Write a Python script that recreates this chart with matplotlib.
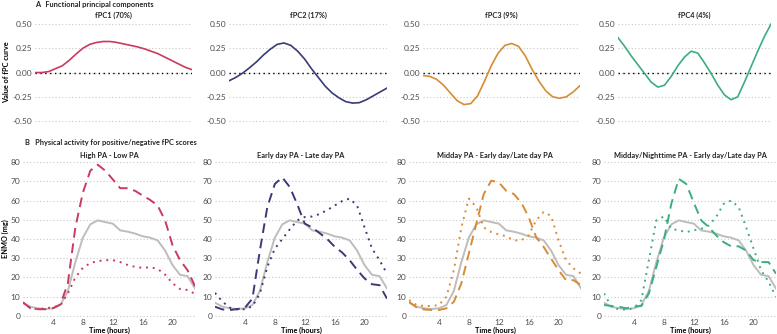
import matplotlib
matplotlib.use("Agg")
import matplotlib.pyplot as plt
import numpy as np

plt.rcParams['font.family'] = ['Lato', 'DejaVu Sans']

hours = list(range(24))

# fPC curves
fpc1 = [0.0, 0.0, 0.01, 0.04, 0.07, 0.125, 0.19, 0.25, 0.29, 0.31, 0.32, 0.32, 0.31, 0.295,
        0.28, 0.265, 0.245, 0.22, 0.195, 0.16, 0.125, 0.09, 0.055, 0.03]
fpc2 = [-0.085, -0.05, -0.005, 0.05, 0.11, 0.18, 0.24, 0.29, 0.305, 0.28, 0.22, 0.14, 0.04, -0.05,
        -0.14, -0.21, -0.26, -0.3, -0.315, -0.31, -0.28, -0.24, -0.2, -0.16]
fpc3 = [-0.03, -0.04, -0.07, -0.13, -0.21, -0.29, -0.33, -0.32, -0.24, -0.09, 0.07, 0.2, 0.28, 0.3,
        0.27, 0.17, 0.03, -0.09, -0.19, -0.25, -0.265, -0.25, -0.2, -0.135]
fpc4 = [0.36, 0.27, 0.17, 0.08, -0.01, -0.1, -0.15, -0.13, -0.04, 0.07, 0.16, 0.22, 0.2, 0.1,
        -0.01, -0.13, -0.23, -0.28, -0.25, -0.1, 0.06, 0.22, 0.37, 0.5]

top_titles = ["fPC1 (70%)", "fPC2 (17%)", "fPC3 (9%)", "fPC4 (4%)"]
bottom_titles = ["High PA - Low PA", "Early day PA - Late day PA",
                 "Midday PA - Early day/Late day PA",
                 "Midday/Nighttime PA - Early day/Late day PA"]
colors = ["#C93A5E", "#3A3A78", "#D88B34", "#3BAE7E"]

# Mean ENMO
mean_pa = [6.9, 4.8, 4.0, 3.6, 4.0, 5.7, 13.0, 28.0, 40.7, 47.6, 49.7, 48.8, 48.0, 44.5,
           43.8, 42.8, 41.4, 40.7, 39.3, 34.0, 26.4, 21.4, 20.7, 14.3]

# positive (dashed) / negative (dotted) fPC scores
pos1 = [7.0, 4.0, 3.5, 3.5, 4.0, 6.0, 17.0, 46.0, 64.0, 75.5, 78.6, 75.5, 71.0, 66.4,
        66.4, 65.0, 62.6, 60.3, 57.4, 49.7, 36.7, 29.0, 23.8, 15.5]
neg1 = [7.0, 4.0, 3.5, 4.0, 4.5, 5.5, 11.7, 20.0, 25.0, 27.5, 28.5, 29.0, 29.0, 28.0,
        26.5, 25.5, 25.0, 25.3, 24.5, 21.5, 17.0, 14.0, 13.5, 11.5]
pos2 = [4.8, 3.4, 3.1, 3.6, 4.3, 9.0, 34.0, 56.6, 68.6, 72.0, 67.0, 58.0, 48.0, 46.0,
        43.0, 40.0, 36.0, 33.0, 29.0, 24.0, 19.5, 16.5, 16.0, 9.0]
neg2 = [12.0, 7.4, 4.3, 3.4, 3.5, 5.0, 11.7, 25.5, 35.0, 40.0, 45.0, 49.7, 51.4, 51.7,
        53.0, 55.0, 57.4, 59.7, 61.0, 57.4, 46.0, 35.0, 29.0, 22.0]
pos3 = [7.4, 4.5, 3.4, 3.1, 3.1, 4.0, 7.4, 17.0, 32.4, 48.0, 63.4, 70.3, 69.5, 65.0,
        63.4, 59.0, 51.4, 41.0, 35.9, 29.8, 23.8, 18.6, 18.6, 16.0]
neg3 = [8.3, 5.7, 5.2, 5.2, 5.7, 10.0, 23.8, 46.0, 61.0, 56.6, 46.0, 43.6, 42.4, 41.4,
        39.3, 39.3, 41.9, 49.7, 54.0, 52.0, 39.3, 29.0, 24.7, 22.0]
pos4 = [5.7, 5.2, 4.8, 4.0, 4.8, 5.2, 11.7, 25.5, 39.3, 58.3, 71.2, 68.6, 59.0, 49.7,
        46.2, 41.9, 38.4, 36.2, 36.2, 34.0, 29.0, 28.0, 28.0, 22.0]
neg4 = [11.7, 4.8, 3.4, 3.4, 4.0, 8.3, 29.0, 49.7, 51.7, 45.3, 44.5, 43.6, 44.5, 45.3,
        47.0, 51.4, 58.3, 60.0, 56.6, 46.2, 35.0, 23.8, 17.8, 10.0]

fpcs = [fpc1, fpc2, fpc3, fpc4]
pos = [pos1, pos2, pos3, pos4]
neg = [neg1, neg2, neg3, neg4]

W, H = 777, 334
fig = plt.figure(figsize=(W / 100, H / 100), dpi=100)

tick_color = "#4D4D4D"
grid_color = "#C8C8C8"
title_fs = 5.3
tick_fs = 6

def style(ax):
    for s in ax.spines.values():
        s.set_visible(False)
    ax.tick_params(length=0, labelsize=tick_fs, colors=tick_color, pad=2)
    ax.tick_params(axis="x", pad=1)
    ax.yaxis.grid(True, linestyle=(0, (1, 2)), color=grid_color, linewidth=0.8)
    ax.xaxis.grid(False)
    ax.set_axisbelow(True)

top_lefts = [35, 229, 423, 618]
top_widths = [157, 158, 157, 153]
top_y0, top_y1 = 19.2, 125.9
for i in range(4):
    ax = fig.add_axes([top_lefts[i] / W, 1 - top_y1 / H, top_widths[i] / W, (top_y1 - top_y0) / H])
    style(ax)
    ax.set_xlim(0, 23)
    ax.set_ylim(-0.55, 0.55)
    ax.set_yticks([-0.5, -0.25, 0, 0.25, 0.5])
    ax.set_yticklabels(["-0.50", "-0.25", "0.00", "0.25", "0.50"])
    ax.set_xticks([])
    ax.axhline(0, color="black", linestyle=(0, (1, 2.5)), linewidth=1.0, zorder=1)
    ax.plot(hours, fpcs[i], color=colors[i], linewidth=1.2, zorder=3)
    ax.set_title(top_titles[i], fontsize=title_fs, fontweight="bold", color="#222222", pad=0.5)
    if i == 0:
        ax.set_ylabel("Value of fPC curve", fontsize=title_fs, fontweight="bold")
        ax.yaxis.set_label_coords(-25 / 157, 0.5)

bot_lefts = [23, 215, 409, 604]
bot_width = 172
bot_y0, bot_y1 = 160.1, 317.9
for i in range(4):
    ax = fig.add_axes([bot_lefts[i] / W, 1 - bot_y1 / H, min(bot_width, W - bot_lefts[i]) / W, (bot_y1 - bot_y0) / H])
    style(ax)
    ax.set_xlim(0, 23)
    ax.set_ylim(-1, 81)
    ax.set_yticks(range(0, 81, 10))
    ax.set_xticks([4, 8, 12, 16, 20])
    ax.plot(hours, mean_pa, color="#BDBDBD", linewidth=1.4, zorder=2)
    ax.plot(hours, pos[i], color=colors[i], linewidth=1.4, linestyle=(0, (5, 3)), zorder=3)
    ax.plot(hours, neg[i], color=colors[i], linewidth=1.4, linestyle=(0, (1, 2.5)), zorder=3)
    ax.set_title(bottom_titles[i], fontsize=title_fs, fontweight="bold", color="#222222", pad=1.5)
    ax.set_xlabel("Time (hours)", fontsize=title_fs, fontweight="bold", labelpad=0)
    if i == 0:
        ax.set_ylabel("ENMO (mg)", fontsize=title_fs, fontweight="bold")
        ax.yaxis.set_label_coords(-14 / 172, 0.5)

fig.text(35 / W, 1 - 4.5 / H, "A   Functional principal components", fontsize=title_fs,
         fontweight="bold", va="center", ha="left", color="#222222")
fig.text(25 / W, 1 - 142 / H, "B   Physical activity for positive/negative fPC scores", fontsize=title_fs,
         fontweight="bold", va="center", ha="left", color="#222222")

fig.savefig("out.png", dpi=100)
